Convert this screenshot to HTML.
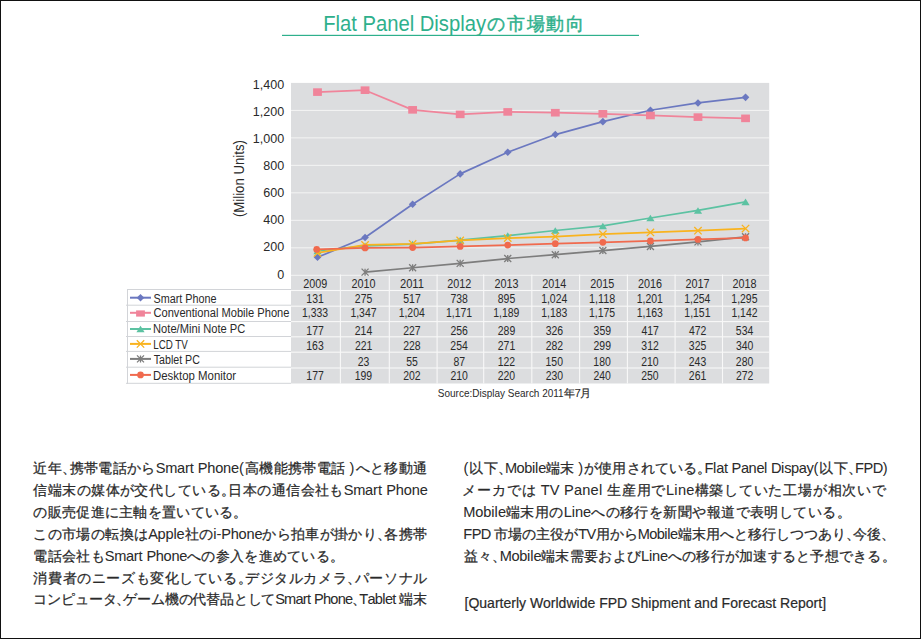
<!DOCTYPE html>
<html lang="ja"><head><meta charset="utf-8"><title>Flat Panel Display</title>
<style>html,body{margin:0;padding:0;background:#fff;}svg{display:block;font-family:"Liberation Sans", sans-serif;}</style></head>
<body><svg width="921" height="639" viewBox="0 0 921 639">
<rect x="0" y="0" width="921" height="639" fill="#fff"/>
<rect x="0.5" y="0.5" width="920" height="638" fill="none" stroke="#111" stroke-width="1"/>
<text x="323.14" y="30.80" font-size="22" textLength="162.90" lengthAdjust="spacingAndGlyphs" fill="#2eb08c" >Flat Panel Display</text>
<text x="486.5 506.6 527.3 546 565.5" y="30" font-size="18.4" fill="#2eb08c" stroke="#2eb08c" stroke-width="0.45">の市場動向</text>
<rect x="282" y="34.8" width="357" height="1.2" fill="#2eb08c"/>
<rect x="291.0" y="82.90" width="478.20" height="300.60" fill="#dcdddf"/>
<rect x="291.0" y="274.80" width="478.20" height="1.0" fill="#f4f4f4"/>
<rect x="291.0" y="247.31" width="478.20" height="1.0" fill="#f4f4f4"/>
<rect x="291.0" y="219.83" width="478.20" height="1.0" fill="#f4f4f4"/>
<rect x="291.0" y="192.34" width="478.20" height="1.0" fill="#f4f4f4"/>
<rect x="291.0" y="164.86" width="478.20" height="1.0" fill="#f4f4f4"/>
<rect x="291.0" y="137.37" width="478.20" height="1.0" fill="#f4f4f4"/>
<rect x="291.0" y="109.89" width="478.20" height="1.0" fill="#f4f4f4"/>
<rect x="291.0" y="289.95" width="478.20" height="1.1" fill="#f8f8f8"/>
<rect x="291.0" y="305.65" width="478.20" height="1.1" fill="#f8f8f8"/>
<rect x="291.0" y="321.05" width="478.20" height="1.1" fill="#f8f8f8"/>
<rect x="291.0" y="336.25" width="478.20" height="1.1" fill="#f8f8f8"/>
<rect x="291.0" y="351.65" width="478.20" height="1.1" fill="#f8f8f8"/>
<rect x="291.0" y="367.45" width="478.20" height="1.1" fill="#f8f8f8"/>
<rect x="339.85" y="274.5" width="1.1" height="109.00" fill="#f8f8f8"/>
<rect x="388.75" y="274.5" width="1.1" height="109.00" fill="#f8f8f8"/>
<rect x="436.55" y="274.5" width="1.1" height="109.00" fill="#f8f8f8"/>
<rect x="483.15" y="274.5" width="1.1" height="109.00" fill="#f8f8f8"/>
<rect x="531.25" y="274.5" width="1.1" height="109.00" fill="#f8f8f8"/>
<rect x="579.05" y="274.5" width="1.1" height="109.00" fill="#f8f8f8"/>
<rect x="626.85" y="274.5" width="1.1" height="109.00" fill="#f8f8f8"/>
<rect x="674.55" y="274.5" width="1.1" height="109.00" fill="#f8f8f8"/>
<rect x="721.95" y="274.5" width="1.1" height="109.00" fill="#f8f8f8"/>
<rect x="127" y="289.00" width="164.00" height="1" fill="#d2d4d8"/>
<rect x="126" y="304.70" width="165.00" height="1" fill="#d2d4d8"/>
<rect x="126" y="321.00" width="165.00" height="1" fill="#d2d4d8"/>
<rect x="126" y="336.00" width="165.00" height="1" fill="#d2d4d8"/>
<rect x="126" y="350.90" width="165.00" height="1" fill="#d2d4d8"/>
<rect x="126" y="366.70" width="165.00" height="1" fill="#d2d4d8"/>
<rect x="126" y="382.80" width="165.00" height="1" fill="#d2d4d8"/>
<rect x="127" y="289" width="1" height="94.80" fill="#d2d4d8"/>
<text x="277.31" y="278.60" font-size="13.5" textLength="6.98" lengthAdjust="spacingAndGlyphs" fill="#2a2a2a" >0</text>
<text x="263.34" y="251.49" font-size="13.5" textLength="20.95" lengthAdjust="spacingAndGlyphs" fill="#2a2a2a" >200</text>
<text x="263.34" y="224.38" font-size="13.5" textLength="20.95" lengthAdjust="spacingAndGlyphs" fill="#2a2a2a" >400</text>
<text x="263.34" y="197.27" font-size="13.5" textLength="20.95" lengthAdjust="spacingAndGlyphs" fill="#2a2a2a" >600</text>
<text x="263.34" y="170.16" font-size="13.5" textLength="20.95" lengthAdjust="spacingAndGlyphs" fill="#2a2a2a" >800</text>
<text x="252.87" y="143.05" font-size="13.5" textLength="31.42" lengthAdjust="spacingAndGlyphs" fill="#2a2a2a" >1,000</text>
<text x="252.87" y="115.94" font-size="13.5" textLength="31.42" lengthAdjust="spacingAndGlyphs" fill="#2a2a2a" >1,200</text>
<text x="252.87" y="88.83" font-size="13.5" textLength="31.42" lengthAdjust="spacingAndGlyphs" fill="#2a2a2a" >1,400</text>
<g transform="translate(244.3,178.6) rotate(-90)"><text x="0" y="0" font-size="14.5" text-anchor="middle" textLength="77" lengthAdjust="spacingAndGlyphs" fill="#2a2a2a">(Milion Units)</text></g>
<path d="M317.50 257.30 L365.06 237.51 L412.62 204.25 L460.18 173.88 L507.74 152.30 L555.30 134.57 L602.86 121.65 L650.42 110.25 L697.98 102.96 L745.54 97.33" stroke="#6b78c0" stroke-width="1.7" fill="none" stroke-linejoin="round"/>
<path d="M317.50 253.50 L321.30 257.30 L317.50 261.10 L313.70 257.30Z" fill="#6b78c0"/>
<path d="M365.06 233.71 L368.86 237.51 L365.06 241.31 L361.26 237.51Z" fill="#6b78c0"/>
<path d="M412.62 200.45 L416.42 204.25 L412.62 208.05 L408.82 204.25Z" fill="#6b78c0"/>
<path d="M460.18 170.08 L463.98 173.88 L460.18 177.68 L456.38 173.88Z" fill="#6b78c0"/>
<path d="M507.74 148.50 L511.54 152.30 L507.74 156.10 L503.94 152.30Z" fill="#6b78c0"/>
<path d="M555.30 130.77 L559.10 134.57 L555.30 138.37 L551.50 134.57Z" fill="#6b78c0"/>
<path d="M602.86 117.85 L606.66 121.65 L602.86 125.45 L599.06 121.65Z" fill="#6b78c0"/>
<path d="M650.42 106.45 L654.22 110.25 L650.42 114.05 L646.62 110.25Z" fill="#6b78c0"/>
<path d="M697.98 99.16 L701.78 102.96 L697.98 106.76 L694.18 102.96Z" fill="#6b78c0"/>
<path d="M745.54 93.53 L749.34 97.33 L745.54 101.13 L741.74 97.33Z" fill="#6b78c0"/>
<path d="M317.50 92.11 L365.06 90.18 L412.62 109.84 L460.18 114.37 L507.74 111.90 L555.30 112.72 L602.86 113.82 L650.42 115.47 L697.98 117.12 L745.54 118.36" stroke="#f0849a" stroke-width="1.7" fill="none" stroke-linejoin="round"/>
<rect x="313.10" y="88.31" width="8.80" height="7.60" fill="#f0849a"/>
<rect x="360.66" y="86.38" width="8.80" height="7.60" fill="#f0849a"/>
<rect x="408.22" y="106.04" width="8.80" height="7.60" fill="#f0849a"/>
<rect x="455.78" y="110.57" width="8.80" height="7.60" fill="#f0849a"/>
<rect x="503.34" y="108.10" width="8.80" height="7.60" fill="#f0849a"/>
<rect x="550.90" y="108.92" width="8.80" height="7.60" fill="#f0849a"/>
<rect x="598.46" y="110.02" width="8.80" height="7.60" fill="#f0849a"/>
<rect x="646.02" y="111.67" width="8.80" height="7.60" fill="#f0849a"/>
<rect x="693.58" y="113.32" width="8.80" height="7.60" fill="#f0849a"/>
<rect x="741.14" y="114.56" width="8.80" height="7.60" fill="#f0849a"/>
<path d="M317.50 250.98 L365.06 245.89 L412.62 244.10 L460.18 240.12 L507.74 235.58 L555.30 230.50 L602.86 225.96 L650.42 217.99 L697.98 210.43 L745.54 201.91" stroke="#5cc2a2" stroke-width="1.7" fill="none" stroke-linejoin="round"/>
<path d="M317.50 247.68 L321.60 254.28 L313.40 254.28Z" fill="#5cc2a2"/>
<path d="M365.06 242.59 L369.16 249.19 L360.96 249.19Z" fill="#5cc2a2"/>
<path d="M412.62 240.80 L416.72 247.40 L408.52 247.40Z" fill="#5cc2a2"/>
<path d="M460.18 236.82 L464.28 243.42 L456.08 243.42Z" fill="#5cc2a2"/>
<path d="M507.74 232.28 L511.84 238.88 L503.64 238.88Z" fill="#5cc2a2"/>
<path d="M555.30 227.20 L559.40 233.80 L551.20 233.80Z" fill="#5cc2a2"/>
<path d="M602.86 222.66 L606.96 229.26 L598.76 229.26Z" fill="#5cc2a2"/>
<path d="M650.42 214.69 L654.52 221.29 L646.32 221.29Z" fill="#5cc2a2"/>
<path d="M697.98 207.13 L702.08 213.73 L693.88 213.73Z" fill="#5cc2a2"/>
<path d="M745.54 198.61 L749.64 205.21 L741.44 205.21Z" fill="#5cc2a2"/>
<path d="M317.50 252.90 L365.06 244.93 L412.62 243.97 L460.18 240.39 L507.74 238.06 L555.30 236.55 L602.86 234.21 L650.42 232.42 L697.98 230.64 L745.54 228.57" stroke="#f9b31e" stroke-width="1.7" fill="none" stroke-linejoin="round"/>
<path d="M313.80 249.20 L321.20 256.60 M321.20 249.20 L313.80 256.60" stroke="#f9b31e" stroke-width="1.3" fill="none"/>
<path d="M361.36 241.23 L368.76 248.63 M368.76 241.23 L361.36 248.63" stroke="#f9b31e" stroke-width="1.3" fill="none"/>
<path d="M408.92 240.27 L416.32 247.67 M416.32 240.27 L408.92 247.67" stroke="#f9b31e" stroke-width="1.3" fill="none"/>
<path d="M456.48 236.69 L463.88 244.09 M463.88 236.69 L456.48 244.09" stroke="#f9b31e" stroke-width="1.3" fill="none"/>
<path d="M504.04 234.36 L511.44 241.76 M511.44 234.36 L504.04 241.76" stroke="#f9b31e" stroke-width="1.3" fill="none"/>
<path d="M551.60 232.85 L559.00 240.25 M559.00 232.85 L551.60 240.25" stroke="#f9b31e" stroke-width="1.3" fill="none"/>
<path d="M599.16 230.51 L606.56 237.91 M606.56 230.51 L599.16 237.91" stroke="#f9b31e" stroke-width="1.3" fill="none"/>
<path d="M646.72 228.72 L654.12 236.12 M654.12 228.72 L646.72 236.12" stroke="#f9b31e" stroke-width="1.3" fill="none"/>
<path d="M694.28 226.94 L701.68 234.34 M701.68 226.94 L694.28 234.34" stroke="#f9b31e" stroke-width="1.3" fill="none"/>
<path d="M741.84 224.87 L749.24 232.27 M749.24 224.87 L741.84 232.27" stroke="#f9b31e" stroke-width="1.3" fill="none"/>
<path d="M365.06 272.14 L412.62 267.74 L460.18 263.34 L507.74 258.53 L555.30 254.69 L602.86 250.56 L650.42 246.44 L697.98 241.90 L745.54 236.82" stroke="#7d7d7d" stroke-width="1.7" fill="none" stroke-linejoin="round"/>
<path d="M361.56 268.64 L368.56 275.64 M368.56 268.64 L361.56 275.64 M365.06 268.64 L365.06 275.64" stroke="#7d7d7d" stroke-width="1.3" fill="none"/>
<path d="M409.12 264.24 L416.12 271.24 M416.12 264.24 L409.12 271.24 M412.62 264.24 L412.62 271.24" stroke="#7d7d7d" stroke-width="1.3" fill="none"/>
<path d="M456.68 259.84 L463.68 266.84 M463.68 259.84 L456.68 266.84 M460.18 259.84 L460.18 266.84" stroke="#7d7d7d" stroke-width="1.3" fill="none"/>
<path d="M504.24 255.03 L511.24 262.03 M511.24 255.03 L504.24 262.03 M507.74 255.03 L507.74 262.03" stroke="#7d7d7d" stroke-width="1.3" fill="none"/>
<path d="M551.80 251.19 L558.80 258.19 M558.80 251.19 L551.80 258.19 M555.30 251.19 L555.30 258.19" stroke="#7d7d7d" stroke-width="1.3" fill="none"/>
<path d="M599.36 247.06 L606.36 254.06 M606.36 247.06 L599.36 254.06 M602.86 247.06 L602.86 254.06" stroke="#7d7d7d" stroke-width="1.3" fill="none"/>
<path d="M646.92 242.94 L653.92 249.94 M653.92 242.94 L646.92 249.94 M650.42 242.94 L650.42 249.94" stroke="#7d7d7d" stroke-width="1.3" fill="none"/>
<path d="M694.48 238.40 L701.48 245.40 M701.48 238.40 L694.48 245.40 M697.98 238.40 L697.98 245.40" stroke="#7d7d7d" stroke-width="1.3" fill="none"/>
<path d="M742.04 233.32 L749.04 240.32 M749.04 233.32 L742.04 240.32 M745.54 233.32 L745.54 240.32" stroke="#7d7d7d" stroke-width="1.3" fill="none"/>
<path d="M316.70 249.40 L365.06 247.95 L412.62 247.54 L460.18 246.44 L507.74 245.07 L555.30 243.69 L602.86 242.32 L650.42 240.94 L697.98 239.43 L745.54 237.92" stroke="#f06a4e" stroke-width="1.7" fill="none" stroke-linejoin="round"/>
<circle cx="316.70" cy="249.40" r="3.35" fill="#f06a4e"/>
<circle cx="365.06" cy="247.95" r="3.35" fill="#f06a4e"/>
<circle cx="412.62" cy="247.54" r="3.35" fill="#f06a4e"/>
<circle cx="460.18" cy="246.44" r="3.35" fill="#f06a4e"/>
<circle cx="507.74" cy="245.07" r="3.35" fill="#f06a4e"/>
<circle cx="555.30" cy="243.69" r="3.35" fill="#f06a4e"/>
<circle cx="602.86" cy="242.32" r="3.35" fill="#f06a4e"/>
<circle cx="650.42" cy="240.94" r="3.35" fill="#f06a4e"/>
<circle cx="697.98" cy="239.43" r="3.35" fill="#f06a4e"/>
<circle cx="745.54" cy="237.92" r="3.35" fill="#f06a4e"/>
<text x="303.17" y="288.00" font-size="12" textLength="24.03" lengthAdjust="spacingAndGlyphs" fill="#2a2a2a" >2009</text>
<text x="351.53" y="288.00" font-size="12" textLength="24.03" lengthAdjust="spacingAndGlyphs" fill="#2a2a2a" >2010</text>
<text x="399.93" y="288.00" font-size="12" textLength="24.03" lengthAdjust="spacingAndGlyphs" fill="#2a2a2a" >2011</text>
<text x="447.14" y="288.00" font-size="12" textLength="24.03" lengthAdjust="spacingAndGlyphs" fill="#2a2a2a" >2012</text>
<text x="494.45" y="288.00" font-size="12" textLength="24.03" lengthAdjust="spacingAndGlyphs" fill="#2a2a2a" >2013</text>
<text x="542.32" y="288.00" font-size="12" textLength="24.03" lengthAdjust="spacingAndGlyphs" fill="#2a2a2a" >2014</text>
<text x="590.19" y="288.00" font-size="12" textLength="24.03" lengthAdjust="spacingAndGlyphs" fill="#2a2a2a" >2015</text>
<text x="637.95" y="288.00" font-size="12" textLength="24.03" lengthAdjust="spacingAndGlyphs" fill="#2a2a2a" >2016</text>
<text x="685.54" y="288.00" font-size="12" textLength="24.03" lengthAdjust="spacingAndGlyphs" fill="#2a2a2a" >2017</text>
<text x="732.55" y="288.00" font-size="12" textLength="24.03" lengthAdjust="spacingAndGlyphs" fill="#2a2a2a" >2018</text>
<text x="306.35" y="303.00" font-size="12" textLength="17.42" lengthAdjust="spacingAndGlyphs" fill="#2a2a2a" >131</text>
<text x="354.85" y="303.00" font-size="12" textLength="17.42" lengthAdjust="spacingAndGlyphs" fill="#2a2a2a" >275</text>
<text x="403.29" y="303.00" font-size="12" textLength="17.42" lengthAdjust="spacingAndGlyphs" fill="#2a2a2a" >517</text>
<text x="450.40" y="303.00" font-size="12" textLength="17.42" lengthAdjust="spacingAndGlyphs" fill="#2a2a2a" >738</text>
<text x="497.78" y="303.00" font-size="12" textLength="17.42" lengthAdjust="spacingAndGlyphs" fill="#2a2a2a" >895</text>
<text x="541.14" y="303.00" font-size="12" textLength="26.13" lengthAdjust="spacingAndGlyphs" fill="#2a2a2a" >1,024</text>
<text x="589.02" y="303.00" font-size="12" textLength="26.13" lengthAdjust="spacingAndGlyphs" fill="#2a2a2a" >1,118</text>
<text x="636.79" y="303.00" font-size="12" textLength="26.13" lengthAdjust="spacingAndGlyphs" fill="#2a2a2a" >1,201</text>
<text x="684.24" y="303.00" font-size="12" textLength="26.13" lengthAdjust="spacingAndGlyphs" fill="#2a2a2a" >1,254</text>
<text x="731.36" y="303.00" font-size="12" textLength="26.13" lengthAdjust="spacingAndGlyphs" fill="#2a2a2a" >1,295</text>
<text x="301.97" y="317.30" font-size="12" textLength="26.13" lengthAdjust="spacingAndGlyphs" fill="#2a2a2a" >1,333</text>
<text x="350.40" y="317.30" font-size="12" textLength="26.13" lengthAdjust="spacingAndGlyphs" fill="#2a2a2a" >1,347</text>
<text x="398.64" y="317.30" font-size="12" textLength="26.13" lengthAdjust="spacingAndGlyphs" fill="#2a2a2a" >1,204</text>
<text x="445.94" y="317.30" font-size="12" textLength="26.13" lengthAdjust="spacingAndGlyphs" fill="#2a2a2a" >1,171</text>
<text x="493.29" y="317.30" font-size="12" textLength="26.13" lengthAdjust="spacingAndGlyphs" fill="#2a2a2a" >1,189</text>
<text x="541.22" y="317.30" font-size="12" textLength="26.13" lengthAdjust="spacingAndGlyphs" fill="#2a2a2a" >1,183</text>
<text x="589.01" y="317.30" font-size="12" textLength="26.13" lengthAdjust="spacingAndGlyphs" fill="#2a2a2a" >1,175</text>
<text x="636.77" y="317.30" font-size="12" textLength="26.13" lengthAdjust="spacingAndGlyphs" fill="#2a2a2a" >1,163</text>
<text x="684.34" y="317.30" font-size="12" textLength="26.13" lengthAdjust="spacingAndGlyphs" fill="#2a2a2a" >1,151</text>
<text x="731.40" y="317.30" font-size="12" textLength="26.13" lengthAdjust="spacingAndGlyphs" fill="#2a2a2a" >1,142</text>
<text x="306.36" y="335.00" font-size="12" textLength="17.42" lengthAdjust="spacingAndGlyphs" fill="#2a2a2a" >177</text>
<text x="354.78" y="335.00" font-size="12" textLength="17.42" lengthAdjust="spacingAndGlyphs" fill="#2a2a2a" >214</text>
<text x="403.24" y="335.00" font-size="12" textLength="17.42" lengthAdjust="spacingAndGlyphs" fill="#2a2a2a" >227</text>
<text x="450.41" y="335.00" font-size="12" textLength="17.42" lengthAdjust="spacingAndGlyphs" fill="#2a2a2a" >256</text>
<text x="497.78" y="335.00" font-size="12" textLength="17.42" lengthAdjust="spacingAndGlyphs" fill="#2a2a2a" >289</text>
<text x="545.77" y="335.00" font-size="12" textLength="17.42" lengthAdjust="spacingAndGlyphs" fill="#2a2a2a" >326</text>
<text x="593.59" y="335.00" font-size="12" textLength="17.42" lengthAdjust="spacingAndGlyphs" fill="#2a2a2a" >359</text>
<text x="641.43" y="335.00" font-size="12" textLength="17.42" lengthAdjust="spacingAndGlyphs" fill="#2a2a2a" >417</text>
<text x="688.98" y="335.00" font-size="12" textLength="17.42" lengthAdjust="spacingAndGlyphs" fill="#2a2a2a" >472</text>
<text x="735.83" y="335.00" font-size="12" textLength="17.42" lengthAdjust="spacingAndGlyphs" fill="#2a2a2a" >534</text>
<text x="306.32" y="349.70" font-size="12" textLength="17.42" lengthAdjust="spacingAndGlyphs" fill="#2a2a2a" >163</text>
<text x="354.88" y="349.70" font-size="12" textLength="17.42" lengthAdjust="spacingAndGlyphs" fill="#2a2a2a" >221</text>
<text x="403.20" y="349.70" font-size="12" textLength="17.42" lengthAdjust="spacingAndGlyphs" fill="#2a2a2a" >228</text>
<text x="450.33" y="349.70" font-size="12" textLength="17.42" lengthAdjust="spacingAndGlyphs" fill="#2a2a2a" >254</text>
<text x="497.78" y="349.70" font-size="12" textLength="17.42" lengthAdjust="spacingAndGlyphs" fill="#2a2a2a" >271</text>
<text x="545.74" y="349.70" font-size="12" textLength="17.42" lengthAdjust="spacingAndGlyphs" fill="#2a2a2a" >282</text>
<text x="593.53" y="349.70" font-size="12" textLength="17.42" lengthAdjust="spacingAndGlyphs" fill="#2a2a2a" >299</text>
<text x="641.35" y="349.70" font-size="12" textLength="17.42" lengthAdjust="spacingAndGlyphs" fill="#2a2a2a" >312</text>
<text x="688.86" y="349.70" font-size="12" textLength="17.42" lengthAdjust="spacingAndGlyphs" fill="#2a2a2a" >325</text>
<text x="735.90" y="349.70" font-size="12" textLength="17.42" lengthAdjust="spacingAndGlyphs" fill="#2a2a2a" >340</text>
<text x="357.76" y="365.50" font-size="12" textLength="11.61" lengthAdjust="spacingAndGlyphs" fill="#2a2a2a" >23</text>
<text x="406.15" y="365.50" font-size="12" textLength="11.61" lengthAdjust="spacingAndGlyphs" fill="#2a2a2a" >55</text>
<text x="453.38" y="365.50" font-size="12" textLength="11.61" lengthAdjust="spacingAndGlyphs" fill="#2a2a2a" >87</text>
<text x="497.66" y="365.50" font-size="12" textLength="17.42" lengthAdjust="spacingAndGlyphs" fill="#2a2a2a" >122</text>
<text x="545.55" y="365.50" font-size="12" textLength="17.42" lengthAdjust="spacingAndGlyphs" fill="#2a2a2a" >150</text>
<text x="593.35" y="365.50" font-size="12" textLength="17.42" lengthAdjust="spacingAndGlyphs" fill="#2a2a2a" >180</text>
<text x="641.23" y="365.50" font-size="12" textLength="17.42" lengthAdjust="spacingAndGlyphs" fill="#2a2a2a" >210</text>
<text x="688.81" y="365.50" font-size="12" textLength="17.42" lengthAdjust="spacingAndGlyphs" fill="#2a2a2a" >243</text>
<text x="735.83" y="365.50" font-size="12" textLength="17.42" lengthAdjust="spacingAndGlyphs" fill="#2a2a2a" >280</text>
<text x="306.36" y="379.50" font-size="12" textLength="17.42" lengthAdjust="spacingAndGlyphs" fill="#2a2a2a" >177</text>
<text x="354.74" y="379.50" font-size="12" textLength="17.42" lengthAdjust="spacingAndGlyphs" fill="#2a2a2a" >199</text>
<text x="403.24" y="379.50" font-size="12" textLength="17.42" lengthAdjust="spacingAndGlyphs" fill="#2a2a2a" >202</text>
<text x="450.38" y="379.50" font-size="12" textLength="17.42" lengthAdjust="spacingAndGlyphs" fill="#2a2a2a" >210</text>
<text x="497.73" y="379.50" font-size="12" textLength="17.42" lengthAdjust="spacingAndGlyphs" fill="#2a2a2a" >220</text>
<text x="545.68" y="379.50" font-size="12" textLength="17.42" lengthAdjust="spacingAndGlyphs" fill="#2a2a2a" >230</text>
<text x="593.48" y="379.50" font-size="12" textLength="17.42" lengthAdjust="spacingAndGlyphs" fill="#2a2a2a" >240</text>
<text x="641.23" y="379.50" font-size="12" textLength="17.42" lengthAdjust="spacingAndGlyphs" fill="#2a2a2a" >250</text>
<text x="688.83" y="379.50" font-size="12" textLength="17.42" lengthAdjust="spacingAndGlyphs" fill="#2a2a2a" >261</text>
<text x="735.89" y="379.50" font-size="12" textLength="17.42" lengthAdjust="spacingAndGlyphs" fill="#2a2a2a" >272</text>
<text x="153.51" y="302.70" font-size="12" textLength="63.07" lengthAdjust="spacingAndGlyphs" fill="#2a2a2a" >Smart Phone</text>
<rect x="130" y="296.70" width="21" height="2" fill="#6b78c0"/>
<path d="M140.50 293.90 L144.30 297.70 L140.50 301.50 L136.70 297.70Z" fill="#6b78c0"/>
<text x="153.44" y="316.80" font-size="12" textLength="136.06" lengthAdjust="spacingAndGlyphs" fill="#2a2a2a" >Conventional Mobile Phone</text>
<rect x="130" y="311.80" width="21" height="2" fill="#f0849a"/>
<rect x="136.1" y="310.40" width="8.8" height="6.2" fill="#f0849a"/>
<text x="153.09" y="332.70" font-size="12" textLength="92.24" lengthAdjust="spacingAndGlyphs" fill="#2a2a2a" >Note/Mini Note PC</text>
<rect x="130" y="328.00" width="21" height="2" fill="#5cc2a2"/>
<path d="M140.50 325.70 L144.60 332.30 L136.40 332.30Z" fill="#5cc2a2"/>
<text x="153.20" y="348.50" font-size="12" textLength="34.64" lengthAdjust="spacingAndGlyphs" fill="#2a2a2a" >LCD TV</text>
<rect x="130" y="342.90" width="21" height="2" fill="#f9b31e"/>
<path d="M136.80 340.20 L144.20 347.60 M144.20 340.20 L136.80 347.60" stroke="#f9b31e" stroke-width="1.3" fill="none"/>
<text x="153.77" y="364.20" font-size="12" textLength="46.13" lengthAdjust="spacingAndGlyphs" fill="#2a2a2a" >Tablet PC</text>
<rect x="130" y="357.90" width="21" height="2" fill="#7d7d7d"/>
<path d="M137.00 355.40 L144.00 362.40 M144.00 355.40 L137.00 362.40 M140.50 355.40 L140.50 362.40" stroke="#7d7d7d" stroke-width="1.3" fill="none"/>
<text x="153.06" y="379.50" font-size="12" textLength="83.02" lengthAdjust="spacingAndGlyphs" fill="#2a2a2a" >Desktop Monitor</text>
<rect x="130" y="373.90" width="21" height="2" fill="#f06a4e"/>
<circle cx="140.50" cy="374.90" r="3.35" fill="#f06a4e"/>
<text x="437.85" y="397.00" font-size="11.5" textLength="125.84" lengthAdjust="spacingAndGlyphs" fill="#2a2a2a" >Source:Display Search 2011</text>
<text x="563.6 574.6 580.0" y="397" font-size="11.5" fill="#2a2a2a"><tspan font-size="10.6" stroke="#2a2a2a" stroke-width="0.2">年</tspan>7<tspan font-size="10.6" stroke="#2a2a2a" stroke-width="0.2">月</tspan></text>
<text x="33.4 47.8 62.1 69.5 83.9 98.2 112.6 127.0 141.4 155.7 165.2 177.0 184.9 189.7 193.8 197.8 207.3 215.2 223.1 231.0 239.0 245.0 259.3 273.7 288.1 302.4 316.8 331.2 345.5 349.6 355.6 370.0 384.3 398.7 413.1" y="472.60" font-size="14.6" fill="#2a2a2a" stroke="#2a2a2a"><tspan font-size="14.2" stroke-width="0.25">近年、携帯電話から</tspan><tspan stroke-width="0.05">Smart Phone(</tspan><tspan font-size="14.2" stroke-width="0.25">高機能携帯電話</tspan><tspan stroke-width="0.05"> )</tspan><tspan font-size="14.2" stroke-width="0.25">へと移動通</tspan></text>
<text x="33.4 47.8 62.3 76.7 91.1 105.5 120.0 134.4 148.8 163.2 177.7 192.1 206.5 220.9 228.4 242.8 257.2 271.6 286.1 300.5 314.9 329.4 343.8 353.3 365.1 373.1 378.0 382.1 386.2 395.7 403.7 411.7 419.7" y="494.60" font-size="14.6" fill="#2a2a2a" stroke="#2a2a2a"><tspan font-size="14.2" stroke-width="0.25">信端末の媒体が交代している。日本の通信会社も</tspan><tspan stroke-width="0.05">Smart Phone</tspan></text>
<text x="33.4 47.7 62.0 76.3 90.5 104.8 119.1 133.4 147.7 162.0 176.2 190.5 204.8 219.1 233.4" y="516.60" font-size="14.6" fill="#2a2a2a" stroke="#2a2a2a"><tspan font-size="14.2" stroke-width="0.25">の販売促進に主軸を置いている。</tspan></text>
<text x="33.4 47.7 62.1 76.4 90.8 105.1 119.5 133.8 148.2 157.6 165.5 173.4 176.6 184.5 198.9 213.2 216.5 221.3 230.7 238.6 246.5 254.4 262.3 276.6 291.0 305.3 319.7 334.0 348.4 362.7 377.0 384.4 398.7 413.1" y="538.60" font-size="14.6" fill="#2a2a2a" stroke="#2a2a2a"><tspan font-size="14.2" stroke-width="0.25">この市場の転換は</tspan><tspan stroke-width="0.05">Apple</tspan><tspan font-size="14.2" stroke-width="0.25">社の</tspan><tspan stroke-width="0.05">i-Phone</tspan><tspan font-size="14.2" stroke-width="0.25">から拍車が掛かり、各携帯</tspan></text>
<text x="33.4 47.7 62.0 76.3 90.5 104.8 114.2 125.9 133.7 138.5 142.4 146.4 155.8 163.6 171.5 179.3 187.1 201.4 215.7 230.0 244.3 258.6 272.8 287.1 301.4 315.7 330.0" y="560.60" font-size="14.6" fill="#2a2a2a" stroke="#2a2a2a"><tspan font-size="14.2" stroke-width="0.25">電話会社も</tspan><tspan stroke-width="0.05">Smart Phone</tspan><tspan font-size="14.2" stroke-width="0.25">への参入を進めている。</tspan></text>
<text x="33.4 48.0 62.6 77.1 91.7 106.3 120.9 135.5 150.0 164.6 179.2 193.8 208.4 222.9 237.5 245.1 259.7 274.3 288.9 303.4 318.0 332.6 347.2 354.8 369.3 383.9 398.5 413.1" y="582.60" font-size="14.6" fill="#2a2a2a" stroke="#2a2a2a"><tspan font-size="14.2" stroke-width="0.25">消費者のニーズも変化している。デジタルカメラ、パーソナル</tspan></text>
<text x="33.4 47.2 61.0 74.9 88.7 102.5 116.3 123.2 137.0 150.8 164.6 178.5 192.3 206.1 219.9 233.7 247.6 261.4 275.2 284.1 295.4 302.8 307.0 310.5 314.0 322.9 330.3 337.7 345.1 352.4 359.3 367.4 374.8 382.2 384.9 392.3 395.8 399.3 413.1" y="604.40" font-size="14.6" fill="#2a2a2a" stroke="#2a2a2a"><tspan font-size="14.2" stroke-width="0.25">コンピュータ、ゲーム機の代替品として</tspan><tspan stroke-width="0.05">Smart Phone</tspan><tspan font-size="14.2" stroke-width="0.25">、</tspan><tspan stroke-width="0.05">Tablet </tspan><tspan font-size="14.2" stroke-width="0.25">端末</tspan></text>
<text x="463.6 469.4 483.6 497.8 505.0 516.6 524.3 532.1 535.1 538.2 545.9 560.1 574.3 578.2 584.0 598.2 612.3 626.5 640.7 654.9 669.1 683.2 697.4 704.6 713.1 716.2 723.9 727.8 731.6 740.9 748.6 756.4 764.1 767.2 771.0 781.1 784.2 791.1 798.8 806.6 813.5 819.4 833.5 847.7 854.9 863.4 872.7 882.7" y="473.10" font-size="14.6" fill="#2a2a2a" stroke="#2a2a2a"><tspan stroke-width="0.05">(</tspan><tspan font-size="14.2" stroke-width="0.25">以下、</tspan><tspan stroke-width="0.05">Mobile</tspan><tspan font-size="14.2" stroke-width="0.25">端末</tspan><tspan stroke-width="0.05"> )</tspan><tspan font-size="14.2" stroke-width="0.25">が使用されている。</tspan><tspan stroke-width="0.05">Flat Panel Dispay(</tspan><tspan font-size="14.2" stroke-width="0.25">以下、</tspan><tspan stroke-width="0.05">FPD)</tspan></text>
<text x="462.4 477.2 491.9 506.7 521.5 536.2 540.7 549.7 559.6 564.0 573.9 582.2 590.5 598.9 602.5 606.9 621.7 636.5 651.2 666.0 674.3 678.0 686.3 694.6 709.4 724.1 738.9 753.7 768.4 783.2 798.0 812.7 827.5 842.2 857.0 871.8" y="495.10" font-size="14.6" fill="#2a2a2a" stroke="#2a2a2a"><tspan font-size="14.2" stroke-width="0.25">メーカでは</tspan><tspan stroke-width="0.05"> TV Panel </tspan><tspan font-size="14.2" stroke-width="0.25">生産用で</tspan><tspan stroke-width="0.05">Line</tspan><tspan font-size="14.2" stroke-width="0.25">構築していた工場が相次いで</tspan></text>
<text x="463.3 475.2 483.2 491.2 494.5 497.9 505.9 520.3 534.8 549.2 563.7 571.7 575.0 583.0 591.0 605.5 619.9 634.3 648.8 663.2 677.7 692.1 706.6 721.0 735.5 749.9 764.4 778.8 793.2 807.7 822.1 836.6" y="517.10" font-size="14.6" fill="#2a2a2a" stroke="#2a2a2a"><tspan stroke-width="0.05">Mobile</tspan><tspan font-size="14.2" stroke-width="0.25">端末用の</tspan><tspan stroke-width="0.05">Line</tspan><tspan font-size="14.2" stroke-width="0.25">への移行を新聞や報道で表明している。</tspan></text>
<text x="463.3 471.7 480.8 490.6 494.3 508.3 522.3 536.3 550.3 564.3 578.3 586.6 595.8 609.8 623.8 637.8 649.2 656.7 664.3 667.2 670.1 677.6 691.6 705.7 719.7 733.7 747.7 761.7 775.7 789.7 803.7 817.7 831.7 845.7 852.7 866.7 880.7" y="539.10" font-size="14.6" fill="#2a2a2a" stroke="#2a2a2a"><tspan stroke-width="0.05">FPD </tspan><tspan font-size="14.2" stroke-width="0.25">市場の主役が</tspan><tspan stroke-width="0.05">TV</tspan><tspan font-size="14.2" stroke-width="0.25">用から</tspan><tspan stroke-width="0.05">Mobile</tspan><tspan font-size="14.2" stroke-width="0.25">端末用へと移行しつつあり、今後、</tspan></text>
<text x="463.9 478.2 492.4 499.7 511.4 519.2 527.0 530.2 533.4 541.2 555.4 569.7 584.0 598.2 612.5 626.8 641.0 648.9 652.0 659.9 667.7 681.9 696.2 710.5 724.7 739.0 753.3 767.5 781.8 796.1 810.3 824.6 838.9 853.1 867.4 881.7" y="561.10" font-size="14.6" fill="#2a2a2a" stroke="#2a2a2a"><tspan font-size="14.2" stroke-width="0.25">益々、</tspan><tspan stroke-width="0.05">Mobile</tspan><tspan font-size="14.2" stroke-width="0.25">端末需要および</tspan><tspan stroke-width="0.05">Line</tspan><tspan font-size="14.2" stroke-width="0.25">への移行が加速すると予想できる。</tspan></text>
<text x="464.50" y="608.00" font-size="14.5" textLength="361.60" lengthAdjust="spacingAndGlyphs" fill="#2a2a2a" stroke="#2a2a2a" stroke-width="0.2">[Quarterly Worldwide FPD Shipment and Forecast Report]</text>
</svg></body></html>
